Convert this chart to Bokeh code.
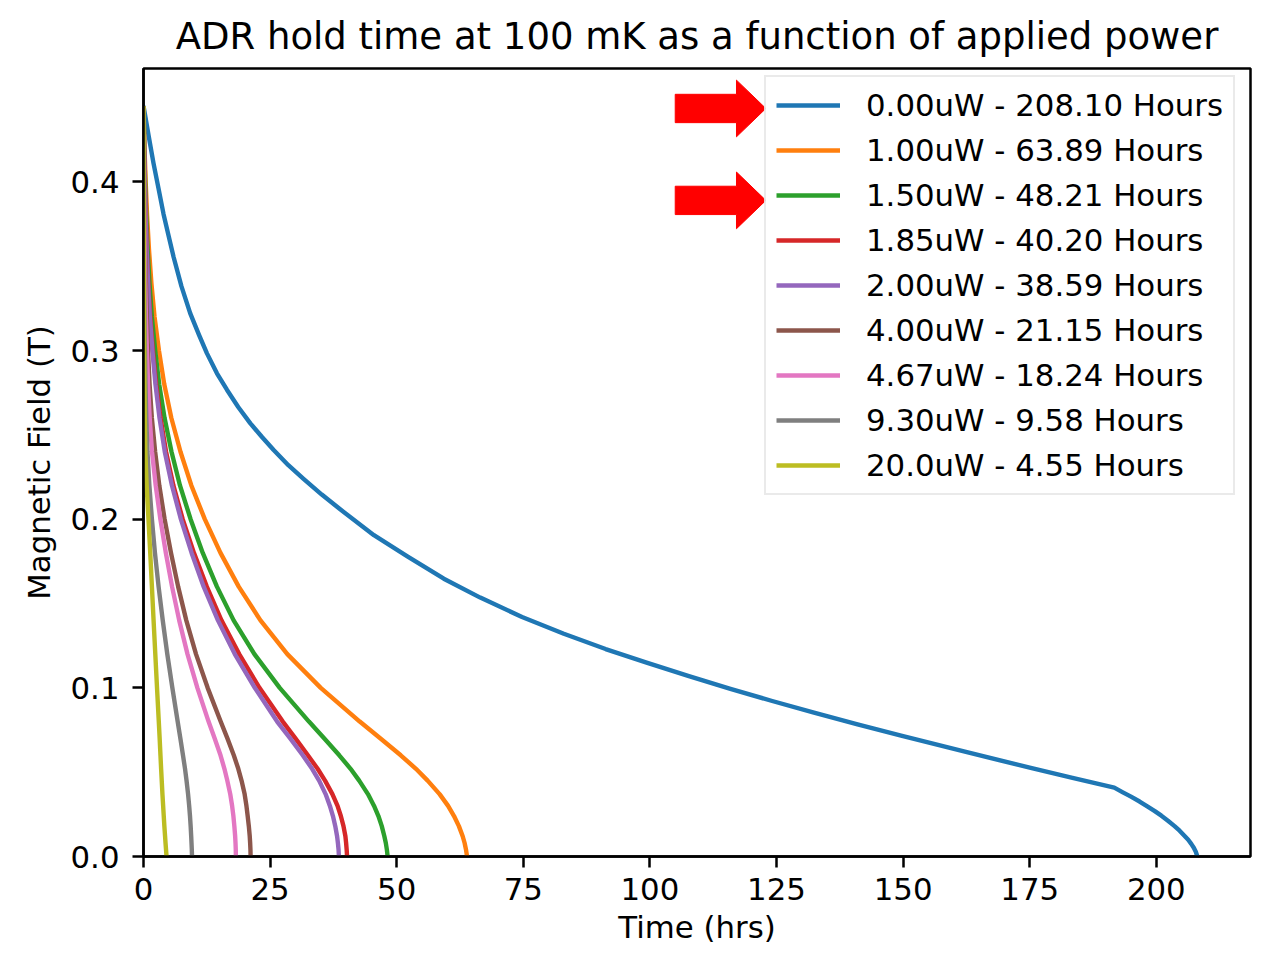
from bokeh.plotting import figure
from bokeh.models import Range1d, FixedTicker, NumeralTickFormatter
from bokeh.embed import file_html
from bokeh.resources import INLINE

# ---------------- data ----------------
labels = [
    "0.00uW - 208.10 Hours",
    "1.00uW - 63.89 Hours",
    "1.50uW - 48.21 Hours",
    "1.85uW - 40.20 Hours",
    "2.00uW - 38.59 Hours",
    "4.00uW - 21.15 Hours",
    "4.67uW - 18.24 Hours",
    "9.30uW - 9.58 Hours",
    "20.0uW - 4.55 Hours",
]
colors = ["#1f77b4", "#ff7f0e", "#2ca02c", "#d62728", "#9467bd",
          "#8c564b", "#e377c2", "#7f7f7f", "#bcbd22"]

# 0.00 uW curve (time in hours, field in tesla)
t_0uW = [0, 1, 1.98, 3, 3.95, 5, 5.93, 7.5, 9.23, 11, 12.53, 14.5, 16.5,
         18.7, 21.1, 23.4, 25.7, 28.6, 31.6, 35.2, 38.9, 45.5, 52.1, 59.3,
         66.5, 74.75, 83, 91.25, 99.5, 107.7, 115.9, 124.15, 132.4, 141,
         149.6, 162.4, 175.2, 183.45, 191.7, 193.3, 195, 196.7, 198.3, 199.7,
         201, 202.3, 203.6, 204.6, 205.5, 206.3, 206.9, 207.4, 207.8, 208.1]
b_0uW = [0.445, 0.4275, 0.411, 0.3955, 0.381, 0.3675, 0.3556, 0.338, 0.322,
         0.309, 0.2983, 0.2865, 0.2766, 0.2665, 0.2568, 0.2487, 0.241, 0.232,
         0.2239, 0.2146, 0.2057, 0.1905, 0.178, 0.1647, 0.1535, 0.142, 0.1321,
         0.1230, 0.1148, 0.1069, 0.0994, 0.0922, 0.0853, 0.0784, 0.0717,
         0.0620, 0.0525, 0.0466, 0.0408, 0.0382, 0.0355, 0.0326, 0.0296,
         0.0269, 0.0242, 0.0212, 0.0180, 0.0153, 0.0125, 0.0099, 0.0075,
         0.0052, 0.0028, 0.0]

# field levels shared by the other curves
b_levels = [0.445, 0.42, 0.40, 0.38, 0.36, 0.34, 0.32, 0.30, 0.28, 0.26,
            0.24, 0.22, 0.20, 0.18, 0.16, 0.14, 0.12, 0.10, 0.08, 0.07, 0.06,
            0.052, 0.045, 0.037, 0.03, 0.024, 0.018, 0.012, 0.008, 0.004, 0.0]

t_1p00uW = [0, 0.2, 0.43, 0.71, 1.08, 1.56, 2.18, 3.05, 4.1, 5.5, 7.3, 9.45,
            12.1, 15.2, 18.8, 23.1, 28.4, 35.0, 42.7, 46.8, 50.8, 53.8, 56.11,
            58.47, 60.15, 61.32, 62.28, 63.03, 63.41, 63.69, 63.89]
t_1p50uW = [0, 0.15, 0.33, 0.54, 0.82, 1.18, 1.65, 2.31, 3.1, 4.16, 5.53,
            7.2, 9.3, 11.7, 14.5, 17.8, 21.9, 26.9, 32.67, 35.71, 38.66,
            40.89, 42.59, 44.32, 45.53, 46.39, 47.05, 47.56, 47.85, 48.06,
            48.21]
t_1p85uW = [0, 0.12, 0.26, 0.43, 0.66, 0.95, 1.33, 1.86, 2.5, 3.36, 4.45,
            5.9, 7.74, 9.96, 12.5, 15.4, 18.9, 22.9, 27.5, 30.0, 32.46, 34.38,
            35.85, 37.3, 38.32, 38.97, 39.49, 39.87, 40.01, 40.12, 40.20]
t_2p00uW = [0, 0.115, 0.25, 0.41, 0.62, 0.9, 1.25, 1.75, 2.36, 3.16, 4.2,
            5.62, 7.38, 9.5, 11.88, 14.7, 18.03, 21.98, 26.39, 28.97, 31.45,
            33.3, 34.68, 35.96, 36.81, 37.41, 37.87, 38.23, 38.39, 38.52,
            38.59]
t_4p00uW = [0, 0.06, 0.13, 0.21, 0.32, 0.47, 0.65, 0.89, 1.2, 1.65, 2.3,
            3.12, 4.17, 5.43, 6.84, 8.45, 10.37, 12.67, 15.24, 16.57, 17.83,
            18.72, 19.36, 19.97, 20.33, 20.57, 20.8, 20.98, 21.06, 21.12,
            21.15]
t_4p67uW = [0, 0.044, 0.095, 0.156, 0.24, 0.34, 0.48, 0.67, 0.9, 1.22, 1.68,
            2.41, 3.33, 4.41, 5.64, 7.05, 8.69, 10.64, 12.85, 14.06, 15.21,
            15.98, 16.55, 17.13, 17.5, 17.75, 17.94, 18.1, 18.17, 18.22, 18.24]
t_9p30uW = [0, 0.02, 0.04, 0.07, 0.1, 0.14, 0.2, 0.28, 0.39, 0.55, 0.78,
            1.16, 1.66, 2.26, 2.98, 3.8, 4.7, 5.7, 6.75, 7.28, 7.8, 8.2, 8.5,
            8.8, 9.02, 9.18, 9.31, 9.42, 9.48, 9.54, 9.58]
t_20p0uW = [0, 0.01, 0.02, 0.035, 0.05, 0.07, 0.1, 0.14, 0.19, 0.26, 0.36,
            0.62, 0.98, 1.33, 1.66, 1.99, 2.33, 2.67, 3.02, 3.19, 3.35, 3.48,
            3.6, 3.74, 3.88, 4.0, 4.12, 4.26, 4.35, 4.45, 4.55]

x_ticks = [0, 25, 50, 75, 100, 125, 150, 175, 200]
y_ticks = [0.0, 0.1, 0.2, 0.3, 0.4]

# red arrow annotations (tip positions in data units)
arrow_tip_t = [122.9, 122.9]
arrow_tip_b = [0.4435, 0.389]

# ---------------- figure ----------------
FS = "30.8px"
p = figure(width=1255, height=947, output_backend="svg", toolbar_location=None,
           x_range=Range1d(0, 218.6), y_range=Range1d(0, 0.4672),
           min_border_left=143, min_border_right=5, min_border_top=68,
           min_border_bottom=90,
           title="ADR hold time at 100 mK as a function of applied power")
p.title.text_font = "DejaVu Sans"
p.title.text_font_size = "37px"
p.title.text_font_style = "normal"
p.title.text_color = "black"
p.title.align = "center"
p.title.standoff = 22

p.xgrid.visible = False
p.ygrid.visible = False
p.outline_line_color = "black"
p.outline_line_width = 2.5
p.outline_line_alpha = 1.0
p.background_fill_color = "white"
p.border_fill_color = "white"

series_t = [t_0uW, t_1p00uW, t_1p50uW, t_1p85uW, t_2p00uW, t_4p00uW,
            t_4p67uW, t_9p30uW, t_20p0uW]
series_b = [b_0uW] + [b_levels] * 8
for t, b, c, lab in zip(series_t, series_b, colors, labels):
    p.line(t, b, line_color=c, line_width=4.4, legend_label=lab,
           line_join="round")

# arrows (block arrows drawn as patches)
head_len, head_half, shaft_len, shaft_half = 5.8, 0.0168, 12.1, 0.0084
for tt, bb in zip(arrow_tip_t, arrow_tip_b):
    xs = [tt, tt - head_len, tt - head_len, tt - head_len - shaft_len,
          tt - head_len - shaft_len, tt - head_len, tt - head_len]
    ys = [bb, bb + head_half, bb + shaft_half, bb + shaft_half,
          bb - shaft_half, bb - shaft_half, bb - head_half]
    p.patch(xs, ys, fill_color="#ff0000", line_color="#ff0000", line_width=1)

for ax in (p.xaxis[0], p.yaxis[0]):
    ax.axis_line_color = "black"
    ax.axis_line_width = 2.5
    ax.major_tick_line_color = "black"
    ax.major_tick_line_width = 2.5
    ax.major_tick_out = 11
    ax.major_tick_in = 0
    ax.minor_tick_line_color = None
    ax.major_label_text_font = "DejaVu Sans"
    ax.major_label_text_font_size = FS
    ax.major_label_text_color = "black"
    ax.axis_label_text_font = "DejaVu Sans"
    ax.axis_label_text_font_size = FS
    ax.axis_label_text_font_style = "normal"
    ax.axis_label_text_color = "black"

p.xaxis[0].ticker = FixedTicker(ticks=x_ticks)
p.yaxis[0].ticker = FixedTicker(ticks=y_ticks)
p.yaxis[0].formatter = NumeralTickFormatter(format="0.0")
p.xaxis[0].axis_label = "Time (hrs)"
p.yaxis[0].axis_label = "Magnetic Field (T)"
p.xaxis[0].major_label_standoff = 10
p.yaxis[0].major_label_standoff = 13
p.xaxis[0].axis_label_standoff = 6
p.yaxis[0].axis_label_standoff = 11

lg = p.legend[0]
lg.location = (621, 361)
lg.margin = 0
lg.padding = 10
lg.spacing = 9
lg.label_height = 36
lg.glyph_height = 36
lg.glyph_width = 64
lg.label_standoff = 26
lg.label_text_font = "DejaVu Sans"
lg.label_text_font_size = FS
lg.label_text_color = "black"
lg.border_line_color = "#d5d5d5"
lg.border_line_width = 2.5
lg.background_fill_alpha = 0.8

open("out.html", "w").write(file_html(p, INLINE))
